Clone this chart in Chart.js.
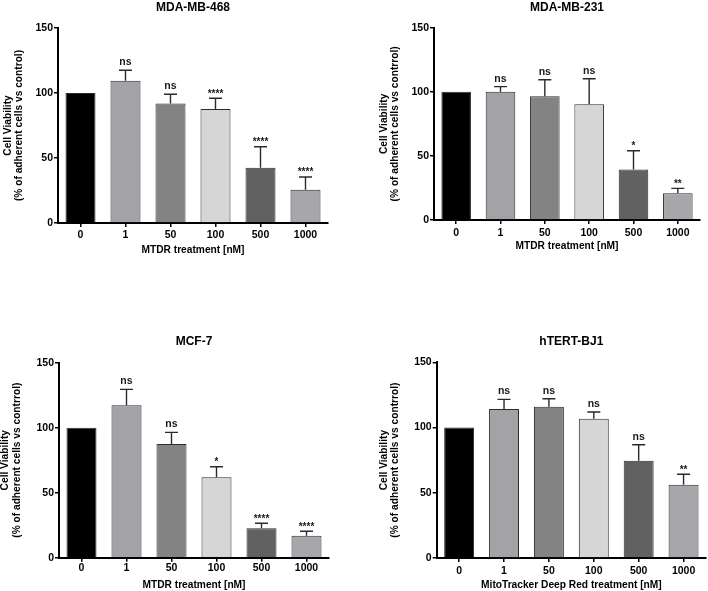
<!DOCTYPE html>
<html>
<head>
<meta charset="utf-8">
<script src="https://cdn.jsdelivr.net/npm/chart.js@4/dist/chart.umd.min.js"></script>
<style>
  html, body { margin: 0; padding: 0; background: #ffffff; }
  #wrap { position: relative; width: 708px; height: 591px; background: #ffffff; overflow: hidden; }
  canvas { position: absolute; }
</style>
</head>
<body>
<div id="wrap">
  <canvas id="c1" width="354" height="290" style="left:0px;top:0px;"></canvas>
  <canvas id="c2" width="354" height="290" style="left:354px;top:0px;"></canvas>
  <canvas id="c3" width="354" height="301" style="left:0px;top:290px;"></canvas>
  <canvas id="c4" width="354" height="301" style="left:354px;top:290px;"></canvas>
</div>
<script>
// ---- data ----
const categories = ['0', '1', '50', '100', '500', '1000'];
const yTicks = [0, 50, 100, 150];

const mda468Means = [100, 109.5, 92, 87.7, 42.5, 25.6];
const mda468Errors = [0, 8, 7, 8.3, 16.2, 9.8];
const mda468Sig = ['', 'ns', 'ns', '****', '****', '****'];

const mda231Means = [100, 100.1, 96.5, 90.2, 39.3, 20.8];
const mda231Errors = [0, 3.9, 12.9, 20, 14.7, 3.9];
const mda231Sig = ['', 'ns', 'ns', 'ns', '*', '**'];

const mcf7Means = [100, 117.2, 87.5, 61.8, 22.6, 16.9];
const mcf7Errors = [0, 12.3, 8.9, 8.2, 3.9, 3.4];
const mcf7Sig = ['', 'ns', 'ns', '*', '****', '****'];

const bj1Means = [100, 114.2, 116, 106.8, 74.5, 56.2];
const bj1Errors = [0, 7.4, 6.1, 5.1, 12.3, 8];
const bj1Sig = ['', 'ns', 'ns', 'ns', 'ns', '**'];

// ---- styles ----
const barColors = ['#000000', '#a3a3a7', '#838383', '#d6d6d6', '#616161', '#a7a7ab'];
const FONT = 'Arial, "Liberation Sans", Helvetica, sans-serif';

const errorBarPlugin = {
  id: 'errorBars',
  afterDatasetsDraw(chart) {
    const ds = chart.data.datasets[0];
    const meta = chart.getDatasetMeta(0);
    const ys = chart.scales.y;
    const ctx = chart.ctx;
    ctx.save();
    meta.data.forEach((bar, i) => {
      const mean = ds.data[i];
      const err = ds.errors[i];
      const x = bar.x;
      const yMean = ys.getPixelForValue(mean);
      const yTop = ys.getPixelForValue(mean + err);
      if (err > 0) {
        ctx.strokeStyle = '#2a2a2a';
        ctx.lineWidth = 1.4;
        ctx.beginPath();
        ctx.moveTo(x, yMean);
        ctx.lineTo(x, yTop);
        ctx.moveTo(x - 6.5, yTop);
        ctx.lineTo(x + 6.5, yTop);
        ctx.stroke();
      }
      const s = ds.sig[i];
      if (s) {
        ctx.fillStyle = '#1a1a1a';
        ctx.textAlign = 'center';
        ctx.textBaseline = 'alphabetic';
        if (s === 'ns') {
          ctx.font = 'bold 10.5px ' + FONT;
          ctx.fillText(s, x, yTop - 5);
        } else {
          ctx.font = 'bold 10px ' + FONT;
          ctx.fillText(s, x, yTop - 1.5);
        }
      }
    });
    ctx.restore();
  }
};

function makeChart(id, p) {
  const ctx = document.getElementById(id).getContext('2d');
  return new Chart(ctx, {
    type: 'bar',
    data: {
      labels: categories,
      datasets: [{
        data: p.means,
        errors: p.errors,
        sig: p.sig,
        backgroundColor: barColors,
        borderColor: '#2b2b2b',
        borderWidth: 1,
        categoryPercentage: 1,
        barPercentage: 0.667
      }]
    },
    options: {
      responsive: false,
      animation: false,
      devicePixelRatio: 1,
      layout: { padding: { left: 0, top: 0, right: p.padRight, bottom: 0 } },
      plugins: {
        legend: { display: false },
        tooltip: { enabled: false },
        title: {
          display: true,
          text: p.title,
          fullSize: false,
          color: '#000',
          font: { family: FONT, size: 12, weight: 'bold', lineHeight: 1.2 },
          padding: { top: p.titlePad[0], bottom: p.titlePad[1] }
        }
      },
      scales: {
        x: {
          type: 'category',
          offset: true,
          grid: { offset: false, drawOnChartArea: false, drawTicks: true, tickLength: 4, color: '#000', lineWidth: 1.5 },
          border: { display: true, color: '#000', width: 2 },
          ticks: { color: '#000', padding: p.xTickPad, font: { family: FONT, size: 10.5, weight: 'bold', lineHeight: 1.2 }, maxRotation: 0, autoSkip: false },
          title: {
            display: true,
            text: p.xTitle,
            color: '#000',
            font: { family: FONT, size: 10.2, weight: 'bold', lineHeight: 1.2 },
            padding: { top: 0, bottom: p.xTitlePB }
          },
          afterFit: (s) => { s.height = p.xH; }
        },
        y: {
          min: 0,
          max: 150,
          afterBuildTicks: (s) => { s.ticks = yTicks.map(v => ({ value: v })); },
          grid: { drawOnChartArea: false, drawTicks: true, tickLength: 4, color: '#000', lineWidth: 1.5 },
          border: { display: true, color: '#000', width: 2 },
          ticks: { color: '#000', padding: 1, font: { family: FONT, size: 10.5, weight: 'bold', lineHeight: 1.2 } },
          title: {
            display: true,
            text: ['Cell Viability', p.yTitle2],
            color: '#000',
            font: { family: FONT, size: 10.2, weight: 'bold', lineHeight: 1.1 },
            padding: { top: p.yTitlePT, bottom: 0 }
          },
          afterFit: (s) => { s.width = p.yW; }
        }
      }
    },
    plugins: [errorBarPlugin]
  });
}

makeChart('c1', {
  title: 'MDA-MB-468', means: mda468Means, errors: mda468Errors, sig: mda468Sig,
  xTitle: 'MTDR treatment [nM]', yTitle2: '(% of adherent cells vs control)',
  yW: 58, xH: 67, padRight: 26, titlePad: [0, 13.6], yTitlePT: 2.5, xTickPad: 2, xTitlePB: 33.3
});
makeChart('c2', {
  title: 'MDA-MB-231', means: mda231Means, errors: mda231Errors, sig: mda231Sig,
  xTitle: 'MTDR treatment [nM]', yTitle2: '(% of adherent cells vs contrrol)',
  yW: 80, xH: 70, padRight: 8, titlePad: [0, 13.3], yTitlePT: 24.5, xTickPad: 2.7, xTitlePB: 37.3
});
makeChart('c3', {
  title: 'MCF-7', means: mcf7Means, errors: mcf7Errors, sig: mcf7Sig,
  xTitle: 'MTDR treatment [nM]', yTitle2: '(% of adherent cells vs contrrol)',
  yW: 59, xH: 33.3, padRight: 25, titlePad: [44.5, 13.8], yTitlePT: 0, xTickPad: 0.6, xTitlePB: 0
});
makeChart('c4', {
  title: 'hTERT-BJ1', means: bj1Means, errors: bj1Errors, sig: bj1Sig,
  xTitle: 'MitoTracker Deep Red treatment [nM]', yTitle2: '(% of adherent cells vs contrrol)',
  yW: 82.7, xH: 33, padRight: 2, titlePad: [44.5, 13.4], yTitlePT: 24.5, xTickPad: 3, xTitlePB: 0
});
</script>
</body>
</html>
